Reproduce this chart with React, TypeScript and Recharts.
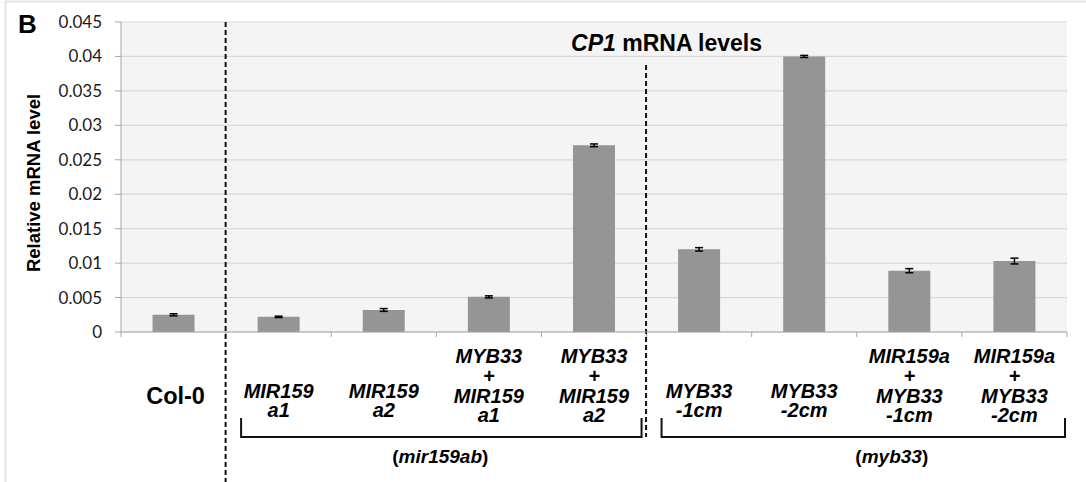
import React from 'react'
import { BarChart, Bar, XAxis, YAxis, CartesianGrid, ErrorBar, usePlotArea } from 'recharts'

const categories = [
  'Col-0',
  'MIR159 a1',
  'MIR159 a2',
  'MYB33 + MIR159 a1',
  'MYB33 + MIR159 a2',
  'MYB33 -1cm',
  'MYB33 -2cm',
  'MIR159a + MYB33 -1cm',
  'MIR159a + MYB33 -2cm',
]
const values = [0.0025, 0.0022, 0.0032, 0.0051, 0.0271, 0.012, 0.04, 0.0089, 0.0103]
const errors = [0.00015, 0.0001, 0.0002, 0.00015, 0.0002, 0.00025, 0.00015, 0.0003, 0.00042]
const tickLines = [
  ['Col-0'],
  ['MIR159', 'a1'],
  ['MIR159', 'a2'],
  ['MYB33', '+', 'MIR159', 'a1'],
  ['MYB33', '+', 'MIR159', 'a2'],
  ['MYB33', '-1cm'],
  ['MYB33', '-2cm'],
  ['MIR159a', '+', 'MYB33', '-1cm'],
  ['MIR159a', '+', 'MYB33', '-2cm'],
]
const yTicks = [0, 0.005, 0.01, 0.015, 0.02, 0.025, 0.03, 0.035, 0.04, 0.045]
const yTickLabels = ['0', '0.005', '0.01', '0.015', '0.02', '0.025', '0.03', '0.035', '0.04', '0.045']

const data = categories.map((name, i) => ({ name, value: values[i], err: errors[i], idx: i }))

const boldFont = '"Liberation Sans", Arial, sans-serif'

function XTick({ x, y, index }: { x?: number; y?: number; index?: number }) {
  const lines = tickLines[index ?? 0] || []
  const cx = x ?? 0
  const base = y ?? 0
  if (lines.length === 1) {
    return (
      <text x={cx + 2} y={base + 72} textAnchor="middle" fontFamily={boldFont} fontWeight="bold" fontSize={23.5} fill="#000">
        {lines[0]}
      </text>
    )
  }
  const offsets = lines.length === 2 ? [65.5, 85] : [31, 50.5, 70.5, 90]
  return (
    <g>
      {lines.map((l, i) => (
        <text key={i} x={cx} y={base + offsets[i]} textAnchor="middle" fontFamily={boldFont}
          fontWeight="bold" fontStyle="italic" fontSize={20} fill="#000">
          {l}
        </text>
      ))}
    </g>
  )
}

function Overlay() {
  const plot = usePlotArea()
  if (!plot) return null
  const band = plot.width / categories.length
  const bottom = plot.y + plot.height
  const edge = (i: number) => plot.x + band * i
  return (
    <g>
      {/* frame */}
      <line x1={5} y1={1.5} x2={1086} y2={1.5} stroke="#e4e4e4" strokeWidth={2} />
      <line x1={5.5} y1={1} x2={5.5} y2={482} stroke="#e4e4e4" strokeWidth={2} />
      <text x={18} y={33} fontFamily={boldFont} fontWeight="bold" fontSize={26}>B</text>
      <text x={plot.x - 88} y={plot.y + plot.height / 2 + 6} transform={`rotate(-90 ${plot.x - 88} ${plot.y + plot.height / 2 + 6})`}
        textAnchor="middle" dominantBaseline="central" fontFamily={boldFont} fontWeight="bold" fontSize={18.5}>
        Relative mRNA level
      </text>
      <text x={edge(5) + 20} y={51} textAnchor="middle" fontFamily={boldFont} fontWeight="bold" fontSize={23}>
        <tspan fontStyle="italic">CP1</tspan> mRNA levels
      </text>
      {categories.map((_, i) => (
        <line key={i} x1={edge(i)} y1={bottom} x2={edge(i)} y2={bottom + 5} stroke="#a6a6a6" strokeWidth={1} />
      ))}
      <line x1={edge(9)} y1={bottom} x2={edge(9)} y2={bottom + 5} stroke="#a6a6a6" strokeWidth={1} />
      <line x1={edge(1) - 0.5} y1={plot.y} x2={edge(1) - 0.5} y2={482} stroke="#111" strokeWidth={2} strokeDasharray="5 3" />
      <line x1={edge(5) - 0.5} y1={65} x2={edge(5) - 0.5} y2={437} stroke="#111" strokeWidth={2} strokeDasharray="5 3" />
      <path d={`M${edge(1) + 15},${bottom + 86} V${bottom + 105} H${edge(5) - 5} V${bottom + 86}`}
        fill="none" stroke="#111" strokeWidth={2} />
      <path d={`M${edge(5) + 15},${bottom + 86} V${bottom + 105} H${edge(9) - 2} V${bottom + 86}`}
        fill="none" stroke="#111" strokeWidth={2} />
      <text x={edge(3) + 4} y={bottom + 131} textAnchor="middle" fontFamily={boldFont} fontWeight="bold" fontSize={19}>
        (<tspan fontStyle="italic">mir159ab</tspan>)
      </text>
      <text x={edge(7) + 35} y={bottom + 131} textAnchor="middle" fontFamily={boldFont} fontWeight="bold" fontSize={19}>
        (<tspan fontStyle="italic">myb33</tspan>)
      </text>
    </g>
  )
}

export default function App() {
  return (
    <div style={{ position: 'absolute', left: 0, top: 0, width: 1086, height: 482, background: '#fff' }}>
      <BarChart width={1086} height={482} data={data} barCategoryGap="30%"
        margin={{ top: 22, right: 19, left: 41, bottom: 0 }}>
        <CartesianGrid vertical={false} fill="#f4f4f4" stroke="#d9d9d9" strokeWidth={1.2} />
        <XAxis dataKey="name" interval={0} height={150} tickLine={false} tickSize={0} tickMargin={0}
          axisLine={{ stroke: '#a6a6a6' }} tick={<XTick />} />
        <YAxis width={80} domain={[0, 0.045]} ticks={yTicks} interval={0}
          tickFormatter={(v: number) => yTickLabels[yTicks.indexOf(v)] ?? String(v)}
          tick={{ fontSize: 17, fill: '#1a1a1a', fontFamily: 'Lato, sans-serif' }}
          axisLine={{ stroke: '#a6a6a6' }} tickLine={{ stroke: '#a6a6a6' }} tickSize={6} tickMargin={13} />
        <Bar dataKey="value" fill="#959595" isAnimationActive={false}>
          <ErrorBar dataKey="err" width={4} stroke="#000" strokeWidth={1.5} />
        </Bar>
        <Overlay />
      </BarChart>
    </div>
  )
}
